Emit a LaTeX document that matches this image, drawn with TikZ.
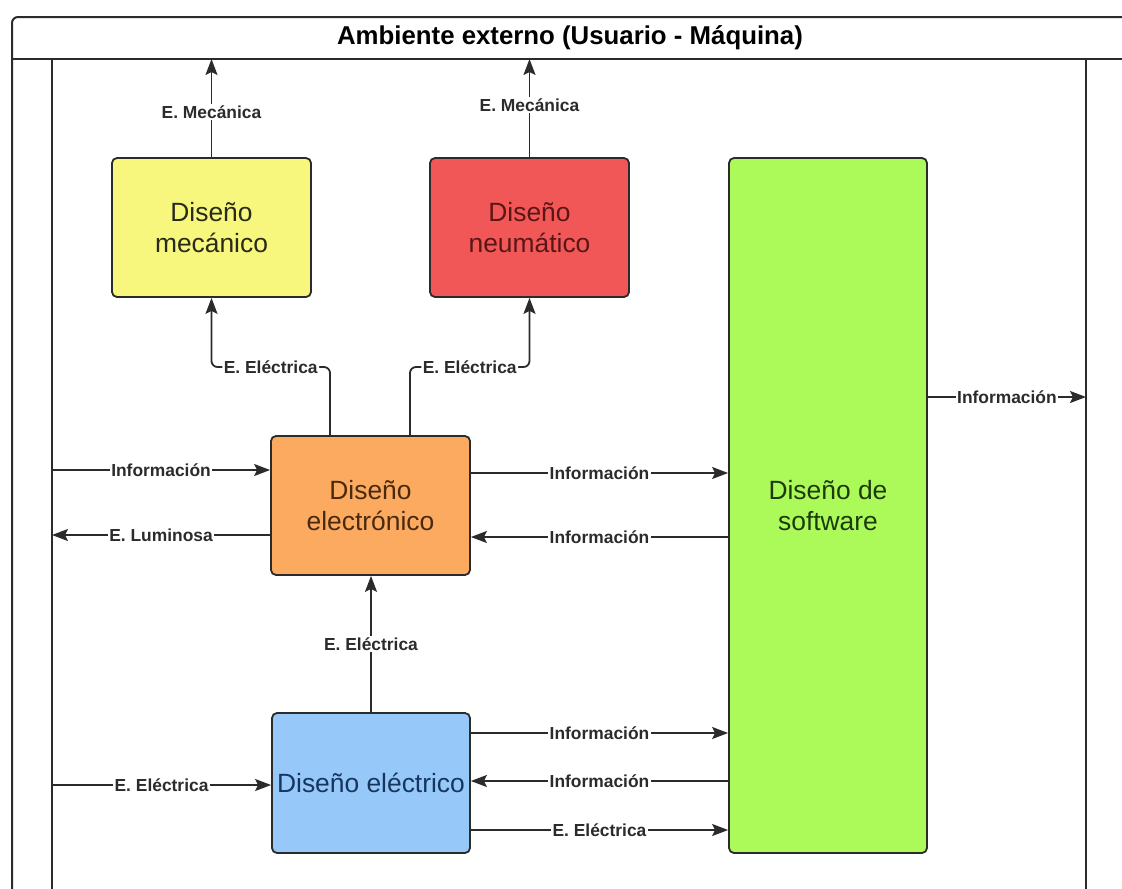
\documentclass[tikz,border=0pt]{standalone}
\usepackage{fontspec}
\setmainfont{Liberation Sans}
\usetikzlibrary{arrows.meta}
\definecolor{ink}{HTML}{2B2B2B}
\definecolor{mecfill}{HTML}{F7F77D}
\definecolor{neufill}{HTML}{F25757}
\definecolor{elofill}{HTML}{FCAA60}
\definecolor{elcfill}{HTML}{96C8FA}
\definecolor{swfill}{HTML}{ACFA5A}
\definecolor{mectext}{HTML}{2A2A1A}
\definecolor{neutext}{HTML}{5A1616}
\definecolor{elotext}{HTML}{4A2A0E}
\definecolor{elctext}{HTML}{17365E}
\definecolor{swtext}{HTML}{1E3A0C}
\begin{document}
\begin{tikzpicture}[x=1pt,y=-1pt,
  block/.style={draw=ink, line width=1.8pt, rounded corners=5pt, inner sep=0pt,
    align=center, font=\fontsize{26.4}{31}\selectfont},
  wire/.style={draw=ink, line width=2pt},
  flow/.style={draw=ink, line width=1.8pt, -{Stealth[length=16pt,width=12pt,inset=3pt]}},
  tag/.style={fill=white, inner sep=1.5pt, text=ink, font=\bfseries\fontsize{17.4}{20}\selectfont}]
\useasboundingbox (0,0) rectangle (1122,889);
\fill[white] (0,0) rectangle (1122,889);

% outer environment frame with title bar
\begin{scope}
  \clip (0,0) rectangle (1122,889);
  \draw[wire, rounded corners=6pt] (12,900) -- (12,17) -- (1140,17);
  \draw[wire] (12,59) -- (1140,59);
  \draw[wire] (52,59) -- (52,900);
  \draw[wire] (1086,59) -- (1086,900);
\end{scope}
\node[font=\bfseries\fontsize{25.8}{30}\selectfont, text=black] (title) at (570,38)
  {Ambiente externo (Usuario - Máquina)};
\coordinate (bar) at (0,59);

% design blocks
\node[block, fill=mecfill, text=mectext, minimum width=199pt, minimum height=139pt]
  (mec) at (211.5,227.5) {Diseño\\mecánico};
\node[block, fill=neufill, text=neutext, minimum width=199pt, minimum height=139pt]
  (neu) at (529.5,227.5) {Diseño\\neumático};
\node[block, fill=swfill, text=swtext, minimum width=198pt, minimum height=695pt]
  (sw) at (828,505.5) {Diseño de\\software};
\node[block, fill=elofill, text=elotext, minimum width=199pt, minimum height=139pt]
  (elo) at (370.5,505.5) {Diseño\\electrónico};
\node[block, fill=elcfill, text=elctext, minimum width=198pt, minimum height=140pt]
  (elc) at (371,783) {Diseño eléctrico};

% flows to the environment
\draw[flow] (mec.north) -- node[tag, pos=0.46] {E. Mecánica} (mec.north |- bar);
\draw[flow] (neu.north) -- node[tag, pos=0.53] {E. Mecánica} (neu.north |- bar);

% electronic block feeding mechanical and pneumatic blocks
\draw[flow, rounded corners=6pt] (330,0 |- elo.north) -- (330,367)
  -| node[tag, pos=0.25] {E. Eléctrica} (mec.south);
\draw[flow, rounded corners=6pt] (410,0 |- elo.north) -- (410,367)
  -| node[tag, pos=0.25] {E. Eléctrica} (neu.south);

% electronic block exchanges
\coordinate (inInfo) at (52,470);
\coordinate (outLum) at (52,535);
\draw[flow] (inInfo) -- node[tag] {Información} (elo.west |- inInfo);
\draw[flow] (elo.west |- outLum) -- node[tag] {E. Luminosa} (outLum);
\draw[flow] (elo.east |- 0,473) -- node[tag] {Información} (sw.west |- 0,473);
\draw[flow] (sw.west |- 0,537) -- node[tag] {Información} (elo.east |- 0,537);

% electrical block exchanges
\draw[flow] (elc.north) -- node[tag] {E. Eléctrica} (elc.north |- elo.south);
\coordinate (inElec) at (52,785);
\draw[flow] (inElec) -- node[tag] {E. Eléctrica} (elc.west |- inElec);
\draw[flow] (elc.east |- 0,733) -- node[tag] {Información} (sw.west |- 0,733);
\draw[flow] (sw.west |- 0,781) -- node[tag] {Información} (elc.east |- 0,781);
\draw[flow] (elc.east |- 0,830) -- node[tag] {E. Eléctrica} (sw.west |- 0,830);

% software output
\coordinate (outInfo) at (1086,397);
\draw[flow] (sw.east |- outInfo) -- node[tag] {Información} (outInfo);
\end{tikzpicture}
\end{document}
